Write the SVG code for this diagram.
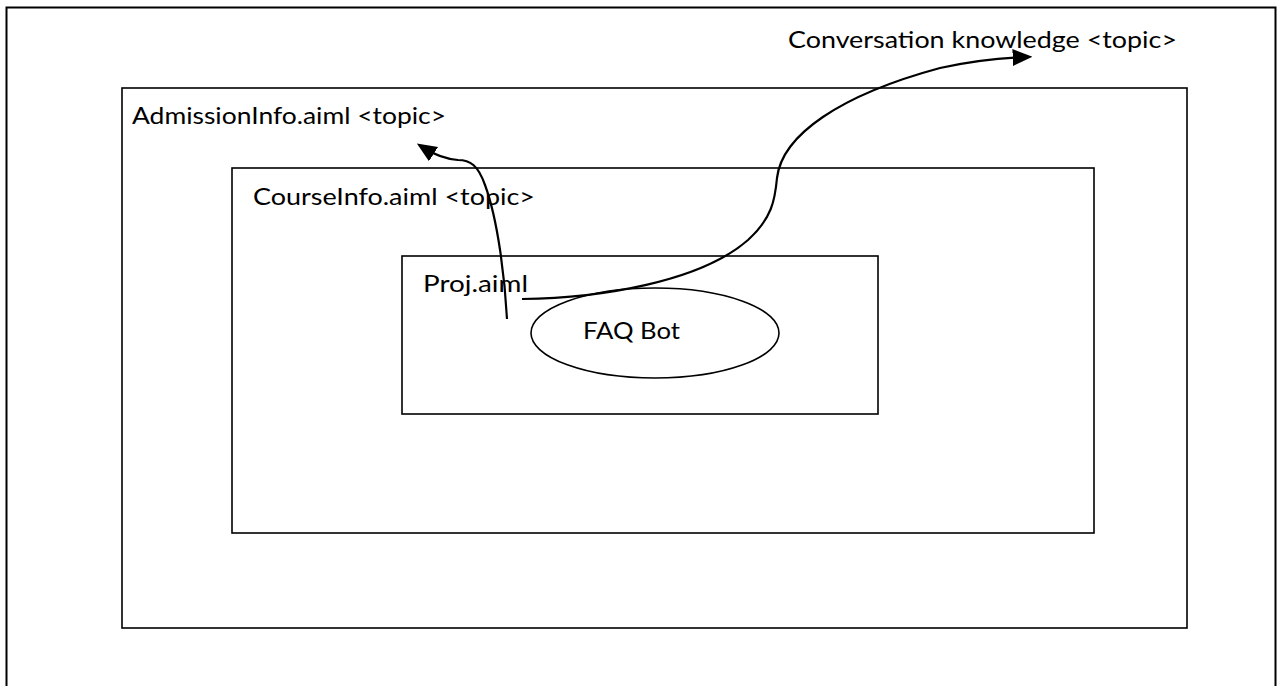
<svg xmlns="http://www.w3.org/2000/svg" width="1278" height="686" viewBox="0 0 1278 686">
<style>
.box{fill:none;stroke:#000;stroke-width:1.6}
.lbl{font-family:"Lato","Open Sans","Liberation Sans",sans-serif;font-size:23px;fill:#000}
.conn{fill:none;stroke:#000;stroke-width:2.2}
</style>
<defs>
<marker id="ah" markerWidth="9" markerHeight="9" refX="4" refY="3" orient="auto" markerUnits="strokeWidth" viewBox="0 0 7 6">
<path d="M0,0 L7,3 L0,6 Z" fill="#000"/>
</marker>
</defs>
<rect width="1278" height="686" fill="#fff"/>
<g id="frame"><path d="M6.5,700 L6.5,7.5 L1275.5,7.5 L1275.5,700" fill="none" stroke="#000" stroke-width="2"/></g>
<g id="admission">
<rect class="box" x="122" y="88" width="1065" height="540"/>
<text class="lbl" x="132" y="124" textLength="314" lengthAdjust="spacingAndGlyphs">AdmissionInfo.aiml &lt;topic&gt;</text>
</g>
<g id="course">
<rect class="box" x="232" y="168" width="862" height="365"/>
<text class="lbl" x="253" y="205" textLength="282" lengthAdjust="spacingAndGlyphs">CourseInfo.aiml &lt;topic&gt;</text>
</g>
<g id="proj">
<rect class="box" x="402" y="256" width="476" height="158"/>
<text class="lbl" x="423" y="292" textLength="105" lengthAdjust="spacingAndGlyphs">Proj.aiml</text>
</g>
<g id="faqbot">
<ellipse class="box" cx="655" cy="333" rx="124" ry="45"/>
<text class="lbl" x="583" y="339" textLength="97" lengthAdjust="spacingAndGlyphs">FAQ Bot</text>
</g>
<g id="conversation">
<text class="lbl" x="788" y="48" textLength="389" lengthAdjust="spacingAndGlyphs">Conversation knowledge &lt;topic&gt;</text>
</g>
<g id="connectors">
<path class="conn" marker-end="url(#ah)" d="M507,319 C505,280 498,220 485,185 C478,165 470,160 458,160 C445,159 435,155 424,148"/>
<path class="conn" marker-end="url(#ah)" d="M522,299 C600,298 700,282 748,240 C772,218 775,200 777,178 C782,135 840,95 940,68 C975,60 1000,58 1024,57"/>
</g>
</svg>
